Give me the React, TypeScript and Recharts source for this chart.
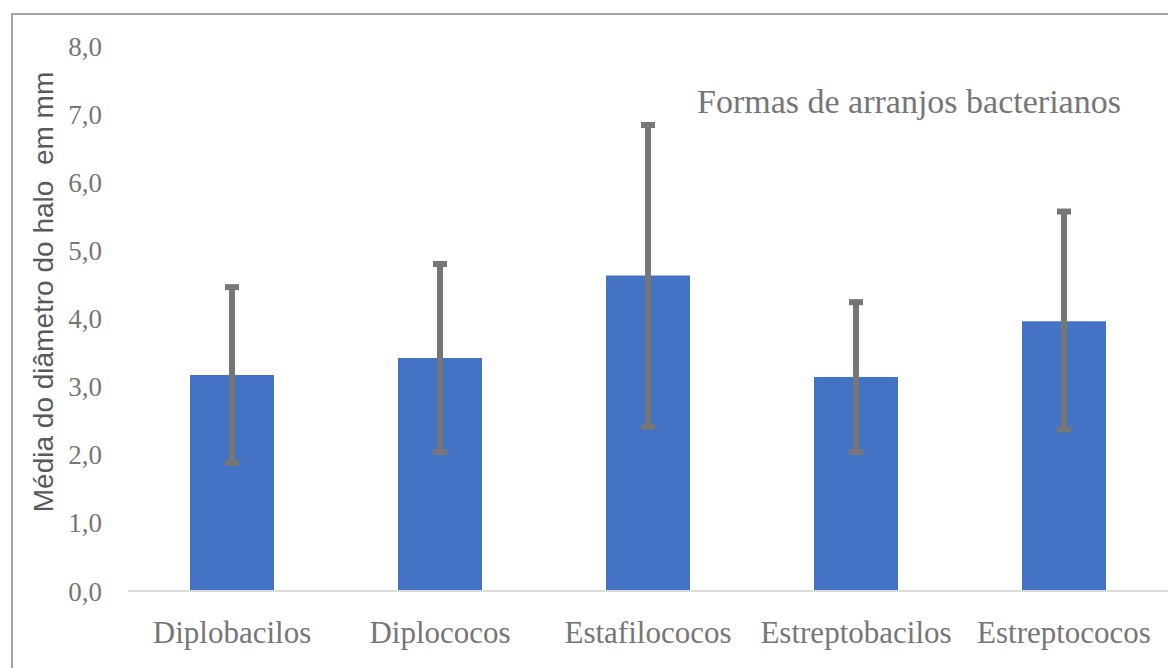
import React from 'react';
import { BarChart, Bar, XAxis, YAxis, ErrorBar } from 'recharts';

const categories = ['Diplobacilos', 'Diplococos', 'Estafilococos', 'Estreptobacilos', 'Estreptococos'];
const means = [3.17, 3.42, 4.63, 3.14, 3.96];
const errLow = [1.29, 1.38, 2.22, 1.1, 1.59];
const errHigh = [1.29, 1.38, 2.21, 1.1, 1.61];
const yTicks = [0, 1, 2, 3, 4, 5, 6, 7, 8];
const title = 'Formas de arranjos bacterianos';
const yLabel = 'Média do diâmetro do halo  em mm';

const data = categories.map((c, i) => ({ name: c, value: means[i], err: [errLow[i], errHigh[i]] }));

const textGray = '#767676';

export default function App() {
  return (
    <div style={{ position: 'absolute', left: 0, top: 0, width: 1168, height: 668, overflow: 'hidden', background: '#fff' }}>
      <div style={{ position: 'absolute', left: 11, top: 13, width: 3000, height: 3000, border: '2px solid #a6a6a6' }} />
      <div style={{ position: 'absolute', left: 0, top: 0 }}>
        <BarChart width={1168} height={668} data={data} margin={{ top: 46, right: 0, left: 68, bottom: 17 }}>
          <XAxis
            dataKey="name"
            height={60}
            tickLine={false}
            tickSize={0}
            tickMargin={30}
            axisLine={{ stroke: '#d9d9d9', strokeWidth: 2 }}
            tick={{ fill: textGray, fontSize: 31, fontFamily: 'Liberation Serif' }}
            interval={0}
          />
          <YAxis
            width={60}
            domain={[0, 8]}
            ticks={yTicks}
            interval={0}
            axisLine={false}
            tickLine={false}
            tickSize={0}
            tickMargin={26}
            tickFormatter={(v: number) => v.toFixed(1).replace('.', ',')}
            tick={{ fill: textGray, fontSize: 27, fontFamily: 'Liberation Serif' }}
          />
          <Bar dataKey="value" fill="#4472C4" barSize={84} isAnimationActive={false}>
            <ErrorBar dataKey="err" width={7} strokeWidth={6} stroke="#767676" direction="y" />
          </Bar>
        </BarChart>
      </div>
      <svg width={1168} height={668} style={{ position: 'absolute', left: 0, top: 0, pointerEvents: 'none' }}>
        <text x={697} y={113} fontSize={34} fontFamily="Liberation Serif" fill={textGray}>{title}</text>
        <text
          x={53}
          y={292}
          transform="rotate(-90, 53, 292)"
          textAnchor="middle"
          fontSize={28}
          fontFamily="Liberation Sans"
          fill="#595959"
          style={{ whiteSpace: 'pre' }}
        >
          {yLabel}
        </text>
      </svg>
    </div>
  );
}
